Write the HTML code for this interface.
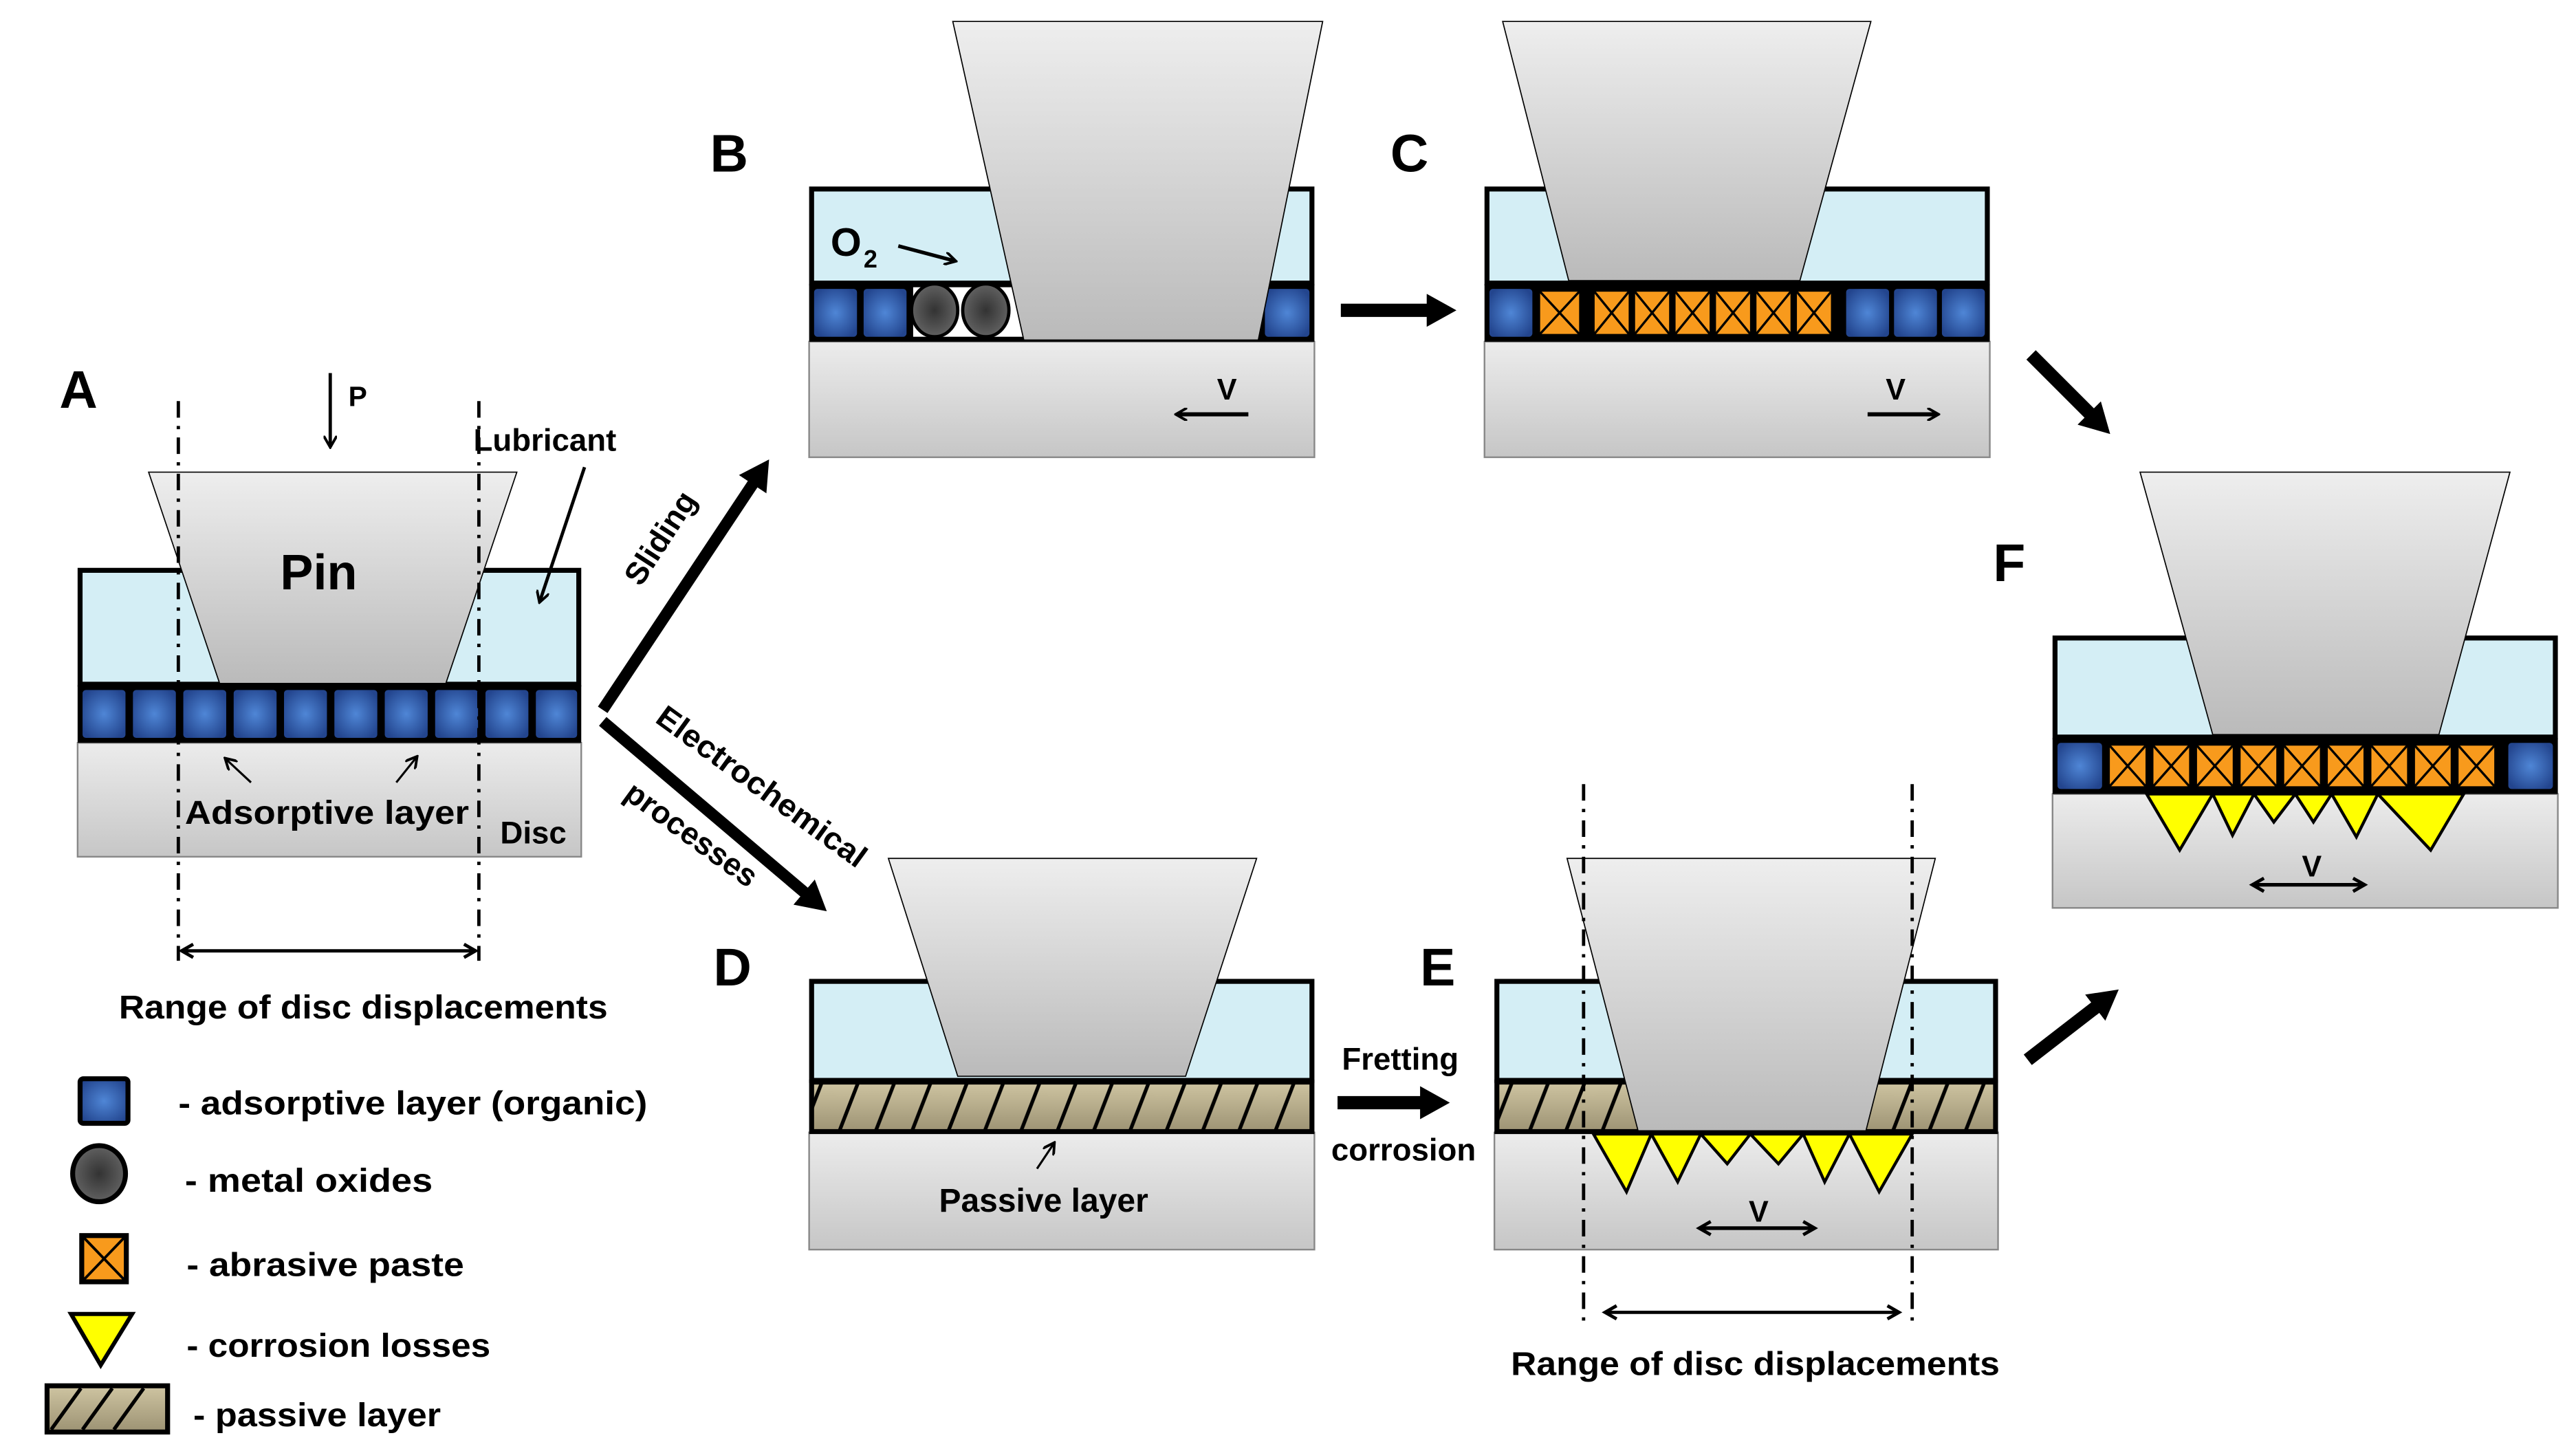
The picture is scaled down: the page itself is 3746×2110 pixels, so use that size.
<!DOCTYPE html>
<html><head><meta charset="utf-8"><style>html,body{margin:0;padding:0;background:#fff}svg{display:block}</style></head>
<body>
<svg width="3746" height="2110" viewBox="0 0 1560 879" preserveAspectRatio="none" xmlns="http://www.w3.org/2000/svg" font-family="'Liberation Sans', sans-serif">
<defs>
<linearGradient id="disc" x1="0" y1="0" x2="0" y2="1"><stop offset="0" stop-color="#ececec"/><stop offset="1" stop-color="#c6c6c6"/></linearGradient>
<linearGradient id="pin" x1="0" y1="0" x2="0" y2="1"><stop offset="0" stop-color="#eeeeee"/><stop offset="1" stop-color="#bababa"/></linearGradient>
<radialGradient id="bl" cx="0.5" cy="0.5" r="0.6"><stop offset="0" stop-color="#4f86d6"/><stop offset="1" stop-color="#23458e"/></radialGradient>
<radialGradient id="ox" cx="0.5" cy="0.5" r="0.6"><stop offset="0" stop-color="#333"/><stop offset="1" stop-color="#6a6a6a"/></radialGradient>
<linearGradient id="pas" x1="0" y1="0" x2="0" y2="1"><stop offset="0" stop-color="#cfc5a2"/><stop offset="1" stop-color="#9c9273"/></linearGradient>
<pattern id="hatch" patternUnits="userSpaceOnUse" width="22" height="31" x="0" y="655">
<rect width="22" height="31" fill="url(#pas)"/>
<path d="M2 31 L14 0" stroke="#000" stroke-width="2.2"/>
</pattern>
<marker id="ah" markerWidth="8" markerHeight="8" refX="6" refY="4" orient="auto" markerUnits="userSpaceOnUse"><path d="M0 0 L7 4 L0 8" fill="none" stroke="#000" stroke-width="1.6"/></marker>
<marker id="ahs" markerWidth="10" markerHeight="10" refX="8" refY="5" orient="auto-start-reverse" markerUnits="userSpaceOnUse"><path d="M1 1 L8 5 L1 9" fill="none" stroke="#000" stroke-width="2"/></marker>
<marker id="big" markerWidth="20" markerHeight="22" refX="4" refY="10" orient="auto" markerUnits="userSpaceOnUse"><path d="M0 0 L18 10 L0 20 Z" fill="#000"/></marker>
</defs>

<!-- ================= PANEL A ================= -->
<text x="36" y="247" font-size="32" font-weight="bold">A</text>
<rect x="47" y="450" width="305" height="69" fill="url(#disc)" stroke="#888" stroke-width="1"/>
<rect x="48.5" y="345.5" width="302" height="69" fill="#d4eef5" stroke="#000" stroke-width="3"/>
<rect x="47" y="415" width="305" height="35" fill="#000"/>
<g fill="url(#bl)">
<rect x="50" y="418" width="26" height="29" rx="2"/><rect x="80.5" y="418" width="26" height="29" rx="2"/><rect x="111" y="418" width="26" height="29" rx="2"/><rect x="141.5" y="418" width="26" height="29" rx="2"/><rect x="172" y="418" width="26" height="29" rx="2"/><rect x="202.5" y="418" width="26" height="29" rx="2"/><rect x="233" y="418" width="26" height="29" rx="2"/><rect x="263.5" y="418" width="26" height="29" rx="2"/><rect x="294" y="418" width="26" height="29" rx="2"/><rect x="324.5" y="418" width="25" height="29" rx="2"/>
</g>
<polygon points="90,286 313,286 270,414 133,414" fill="url(#pin)" stroke="#000" stroke-width="0.7"/>
<text x="193" y="357" font-size="30" font-weight="bold" text-anchor="middle">Pin</text>
<g stroke="#000" stroke-width="2" stroke-dasharray="10,5,2,5"><line x1="108" y1="243" x2="108" y2="582"/><line x1="290" y1="243" x2="290" y2="582"/></g>
<line x1="200" y1="226" x2="200" y2="270" stroke="#000" stroke-width="2" marker-end="url(#ah)"/>
<text x="211" y="246" font-size="17" font-weight="bold">P</text>
<text x="330" y="273" font-size="19" font-weight="bold" text-anchor="middle">Lubricant</text>
<line x1="354" y1="283" x2="327" y2="364" stroke="#000" stroke-width="2" marker-end="url(#ah)"/>
<line x1="152" y1="474" x2="137" y2="460" stroke="#000" stroke-width="1.3" marker-end="url(#ah)"/>
<line x1="240" y1="474" x2="252" y2="459" stroke="#000" stroke-width="1.3" marker-end="url(#ah)"/>
<text x="198" y="499" font-size="20" font-weight="bold" text-anchor="middle" textLength="172" lengthAdjust="spacingAndGlyphs">Adsorptive layer</text>
<text x="323" y="511" font-size="19" font-weight="bold" text-anchor="middle">Disc</text>
<line x1="110" y1="576" x2="288" y2="576" stroke="#000" stroke-width="2" marker-start="url(#ahs)" marker-end="url(#ahs)"/>
<text x="220" y="617" font-size="20" font-weight="bold" text-anchor="middle" textLength="296" lengthAdjust="spacingAndGlyphs">Range of disc displacements</text>

<!-- ================= ARROWS from A ================= -->
<line x1="365" y1="430" x2="458" y2="290" stroke="#000" stroke-width="7" marker-end="url(#big)"/>
<text x="0" y="0" font-size="19" font-weight="bold" transform="translate(388,356) rotate(-57)">Sliding</text>
<line x1="365" y1="437" x2="490" y2="543" stroke="#000" stroke-width="7" marker-end="url(#big)"/>
<text x="0" y="0" font-size="19" font-weight="bold" transform="translate(396,437) rotate(36)" textLength="152" lengthAdjust="spacingAndGlyphs">Electrochemical</text>
<text x="0" y="0" font-size="19" font-weight="bold" transform="translate(377,483) rotate(36)">processes</text>

<!-- ================= PANEL B ================= -->
<text x="430" y="104" font-size="32" font-weight="bold">B</text>
<rect x="490" y="207" width="306" height="70" fill="url(#disc)" stroke="#888" stroke-width="1"/>
<rect x="491.5" y="114.5" width="303" height="57" fill="#d4eef5" stroke="#000" stroke-width="3"/>
<rect x="490" y="172" width="306" height="35" fill="#000"/>
<rect x="553" y="174" width="70" height="30" fill="#fff"/>
<g fill="url(#bl)"><rect x="493" y="175" width="26" height="29" rx="2"/><rect x="523" y="175" width="26" height="29" rx="2"/><rect x="766" y="175" width="27" height="29" rx="2"/></g>
<ellipse cx="566" cy="188" rx="14" ry="16" fill="url(#ox)" stroke="#000" stroke-width="2"/>
<ellipse cx="597" cy="188" rx="14" ry="16" fill="url(#ox)" stroke="#000" stroke-width="2"/>
<polygon points="577,13 801,13 762,206 620,206" fill="url(#pin)" stroke="#000" stroke-width="0.7"/>
<text x="503" y="155" font-size="24" font-weight="bold">O</text>
<text x="523" y="162" font-size="15" font-weight="bold">2</text>
<line x1="544" y1="149" x2="578" y2="158" stroke="#000" stroke-width="2.2" marker-end="url(#ah)"/>
<text x="743" y="242" font-size="18" font-weight="bold" text-anchor="middle">V</text>
<line x1="756" y1="251" x2="713" y2="251" stroke="#000" stroke-width="2.5" marker-end="url(#ah)"/>

<!-- B -> C arrow -->
<line x1="812" y1="188" x2="868" y2="188" stroke="#000" stroke-width="8" marker-end="url(#big)"/>

<!-- ================= PANEL C ================= -->
<text x="842" y="104" font-size="32" font-weight="bold">C</text>
<rect x="899" y="207" width="306" height="70" fill="url(#disc)" stroke="#888" stroke-width="1"/>
<rect x="900.5" y="114.5" width="303" height="57" fill="#d4eef5" stroke="#000" stroke-width="3"/>
<rect x="899" y="172" width="306" height="35" fill="#000"/>
<g fill="url(#bl)"><rect x="902" y="175" width="26" height="29" rx="2"/><rect x="1118" y="175" width="26" height="29" rx="2"/><rect x="1147" y="175" width="26" height="29" rx="2"/><rect x="1176" y="175" width="26" height="29" rx="2"/></g>
<g fill="#f89a1c" stroke="#000" stroke-width="1.4">
<rect x="932" y="176" width="25" height="27"/><path d="M932 176 L957 203 M957 176 L932 203"/>
<rect x="965" y="176" width="22" height="27"/><path d="M965 176 L987 203 M987 176 L965 203"/>
<rect x="989.5" y="176" width="22" height="27"/><path d="M989.5 176 L1011.5 203 M1011.5 176 L989.5 203"/>
<rect x="1014" y="176" width="22" height="27"/><path d="M1014 176 L1036 203 M1036 176 L1014 203"/>
<rect x="1038.5" y="176" width="22" height="27"/><path d="M1038.5 176 L1060.5 203 M1060.5 176 L1038.5 203"/>
<rect x="1063" y="176" width="22" height="27"/><path d="M1063 176 L1085 203 M1085 176 L1063 203"/>
<rect x="1087.5" y="176" width="22" height="27"/><path d="M1087.5 176 L1109.5 203 M1109.5 176 L1087.5 203"/>
</g>
<polygon points="910,13 1133,13 1090,170 950,170" fill="url(#pin)" stroke="#000" stroke-width="0.7"/>
<text x="1148" y="242" font-size="18" font-weight="bold" text-anchor="middle">V</text>
<line x1="1131" y1="251" x2="1173" y2="251" stroke="#000" stroke-width="2.5" marker-end="url(#ah)"/>

<!-- C -> F arrow -->
<line x1="1230" y1="215" x2="1268" y2="253" stroke="#000" stroke-width="8" marker-end="url(#big)"/>

<!-- ================= PANEL F ================= -->
<text x="1207" y="352" font-size="32" font-weight="bold">F</text>
<rect x="1243" y="481" width="306" height="69" fill="url(#disc)" stroke="#888" stroke-width="1"/>
<rect x="1244.5" y="386.5" width="303" height="60" fill="#d4eef5" stroke="#000" stroke-width="3"/>
<rect x="1243" y="447" width="306" height="34" fill="#000"/>
<g fill="url(#bl)"><rect x="1246" y="450" width="27" height="28" rx="2"/><rect x="1519" y="450" width="27" height="28" rx="2"/></g>
<g fill="#f89a1c" stroke="#000" stroke-width="1.4">
<rect x="1277" y="451" width="23" height="26"/><path d="M1277 451 L1300 477 M1300 451 L1277 477"/>
<rect x="1303.4" y="451" width="23" height="26"/><path d="M1303.4 451 L1326.4 477 M1326.4 451 L1303.4 477"/>
<rect x="1329.8" y="451" width="23" height="26"/><path d="M1329.8 451 L1352.8 477 M1352.8 451 L1329.8 477"/>
<rect x="1356.2" y="451" width="23" height="26"/><path d="M1356.2 451 L1379.2 477 M1379.2 451 L1356.2 477"/>
<rect x="1382.6" y="451" width="23" height="26"/><path d="M1382.6 451 L1405.6 477 M1405.6 451 L1382.6 477"/>
<rect x="1409" y="451" width="23" height="26"/><path d="M1409 451 L1432 477 M1432 451 L1409 477"/>
<rect x="1435.4" y="451" width="23" height="26"/><path d="M1435.4 451 L1458.4 477 M1458.4 451 L1435.4 477"/>
<rect x="1461.8" y="451" width="23" height="26"/><path d="M1461.8 451 L1484.8 477 M1484.8 451 L1461.8 477"/>
<rect x="1488.2" y="451" width="23" height="26"/><path d="M1488.2 451 L1511.2 477 M1511.2 451 L1488.2 477"/>
</g>
<g fill="#ffff00" stroke="#000" stroke-width="1.8" stroke-linejoin="miter">
<polygon points="1300,481 1340,481 1320,515"/>
<polygon points="1340,481 1365,481 1352,506"/>
<polygon points="1365,481 1390,481 1377,498"/>
<polygon points="1390,481 1412,481 1401,498"/>
<polygon points="1412,481 1440,481 1427,507"/>
<polygon points="1440,481 1492,481 1472,515"/>
</g>
<polygon points="1296,286 1520,286 1477,445 1340,445" fill="url(#pin)" stroke="#000" stroke-width="0.7"/>
<text x="1400" y="531" font-size="18" font-weight="bold" text-anchor="middle">V</text>
<line x1="1364" y1="536" x2="1432" y2="536" stroke="#000" stroke-width="2.2" marker-start="url(#ahs)" marker-end="url(#ahs)"/>

<!-- E -> F arrow -->
<line x1="1228" y1="642" x2="1272" y2="608" stroke="#000" stroke-width="8" marker-end="url(#big)"/>

<!-- ================= PANEL D ================= -->
<text x="432" y="597" font-size="32" font-weight="bold">D</text>
<rect x="490" y="686" width="306" height="71" fill="url(#disc)" stroke="#888" stroke-width="1"/>
<rect x="491.5" y="594.5" width="303" height="60" fill="#d4eef5" stroke="#000" stroke-width="3"/>
<rect x="491.5" y="655.5" width="303" height="30" fill="url(#hatch)" stroke="#000" stroke-width="3"/>
<polygon points="538,520 761,520 718,652 580,652" fill="url(#pin)" stroke="#000" stroke-width="0.7"/>
<line x1="628" y1="708" x2="638" y2="693" stroke="#000" stroke-width="1.3" marker-end="url(#ah)"/>
<text x="632" y="734" font-size="20" font-weight="bold" text-anchor="middle">Passive layer</text>

<!-- Fretting corrosion arrow -->
<text x="848" y="648" font-size="19" font-weight="bold" text-anchor="middle">Fretting</text>
<line x1="810" y1="668" x2="864" y2="668" stroke="#000" stroke-width="8" marker-end="url(#big)"/>
<text x="850" y="703" font-size="19" font-weight="bold" text-anchor="middle">corrosion</text>

<!-- ================= PANEL E ================= -->
<text x="860" y="597" font-size="32" font-weight="bold">E</text>
<rect x="905" y="686" width="305" height="71" fill="url(#disc)" stroke="#888" stroke-width="1"/>
<rect x="906.5" y="594.5" width="302" height="60" fill="#d4eef5" stroke="#000" stroke-width="3"/>
<rect x="906.5" y="655.5" width="302" height="30" fill="url(#hatch)" stroke="#000" stroke-width="3"/>
<g fill="#ffff00" stroke="#000" stroke-width="1.8">
<polygon points="965,687 1000,687 985,722"/>
<polygon points="1000,687 1030,687 1016,716"/>
<polygon points="1030,687 1060,687 1046,705"/>
<polygon points="1060,687 1092,687 1077,705"/>
<polygon points="1092,687 1120,687 1105,716"/>
<polygon points="1120,687 1158,687 1138,722"/>
</g>
<polygon points="949,520 1172,520 1130,685 992,685" fill="url(#pin)" stroke="#000" stroke-width="0.7"/>
<g stroke="#000" stroke-width="2" stroke-dasharray="10,5,2,5"><line x1="959" y1="475" x2="959" y2="800"/><line x1="1158" y1="475" x2="1158" y2="800"/></g>
<text x="1065" y="740" font-size="18" font-weight="bold" text-anchor="middle">V</text>
<line x1="1029" y1="744" x2="1099" y2="744" stroke="#000" stroke-width="2.2" marker-start="url(#ahs)" marker-end="url(#ahs)"/>
<line x1="972" y1="795" x2="1150" y2="795" stroke="#000" stroke-width="2" marker-start="url(#ahs)" marker-end="url(#ahs)"/>
<text x="1063" y="833" font-size="20" font-weight="bold" text-anchor="middle" textLength="296" lengthAdjust="spacingAndGlyphs">Range of disc displacements</text>

<!-- ================= LEGEND ================= -->
<rect x="48.5" y="653.5" width="29" height="27" rx="2" fill="url(#bl)" stroke="#000" stroke-width="3"/>
<text x="108" y="675" font-size="20" font-weight="bold" textLength="284" lengthAdjust="spacingAndGlyphs">- adsorptive layer (organic)</text>
<ellipse cx="60" cy="711" rx="16" ry="17" fill="url(#ox)" stroke="#000" stroke-width="3"/>
<text x="112" y="722" font-size="20" font-weight="bold" textLength="150" lengthAdjust="spacingAndGlyphs">- metal oxides</text>
<rect x="49.5" y="748.5" width="27" height="28" fill="#f89a1c" stroke="#000" stroke-width="3"/>
<path d="M51 750 L75 775 M75 750 L51 775" stroke="#000" stroke-width="1.6"/>
<text x="113" y="773" font-size="20" font-weight="bold" textLength="168" lengthAdjust="spacingAndGlyphs">- abrasive paste</text>
<polygon points="43,796 80,796 61,827" fill="#ffff00" stroke="#000" stroke-width="2.5"/>
<text x="113" y="822" font-size="20" font-weight="bold" textLength="184" lengthAdjust="spacingAndGlyphs">- corrosion losses</text>
<rect x="28.5" y="839.5" width="73" height="28" fill="url(#pas)" stroke="#000" stroke-width="3"/>
<path d="M31 866 L49 841 M50 866 L68 841 M69 866 L87 841" stroke="#000" stroke-width="2.2"/>
<text x="117" y="864" font-size="20" font-weight="bold" textLength="150" lengthAdjust="spacingAndGlyphs">- passive layer</text>
</svg>
</body></html>
